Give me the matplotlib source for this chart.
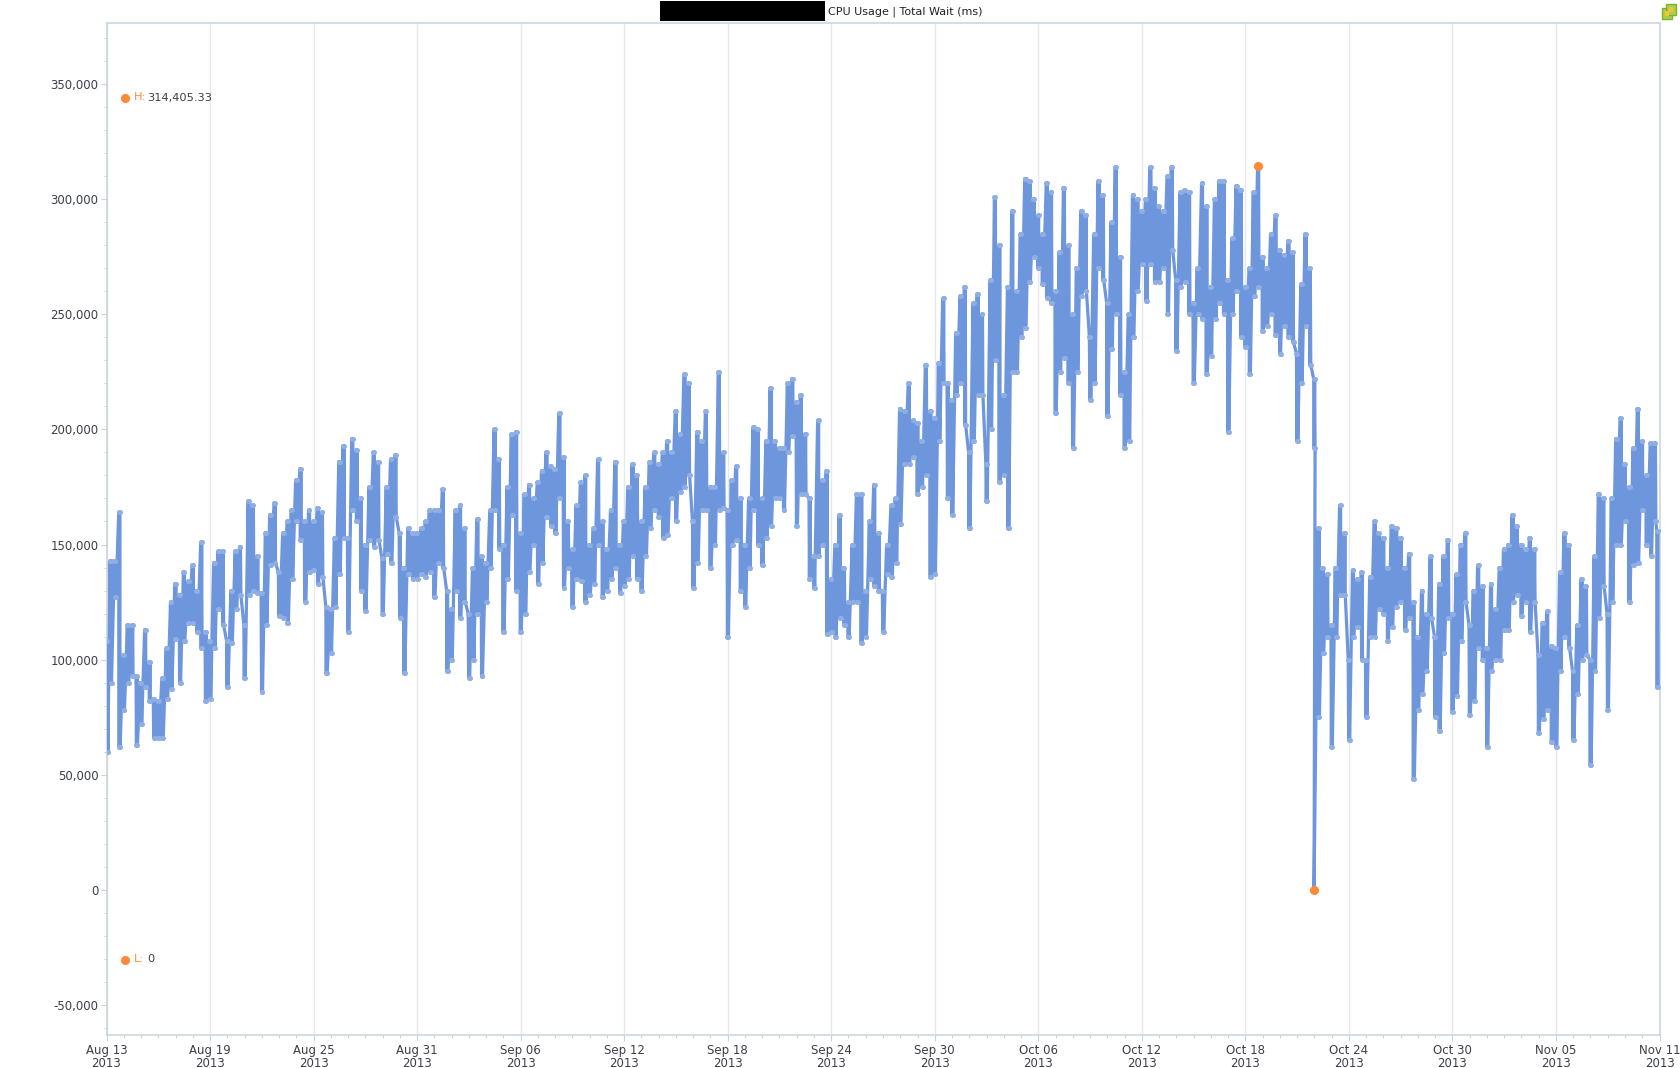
import numpy as np
import matplotlib
matplotlib.use("Agg")
import matplotlib.pyplot as plt
from matplotlib.lines import Line2D
from matplotlib.patches import Rectangle
from matplotlib.ticker import FuncFormatter, MultipleLocator

# Upper / lower swing of the wait time (thousand ms), quarter-day columns, six days per list
high_aug13 = [108,143,143,164,102,115,115,93,90,113,99,83,82,92,105,125,133,128,138,134,141,130,151,112]
low_aug13 = [60,90,127,62,78,90,93,63,72,88,82,66,66,66,83,87,109,90,108,116,116,112,105,82]
high_aug19 = [108,142,147,147,108,130,147,149,115,169,167,145,129,155,163,168,138,155,160,165,178,183,160,165]
low_aug19 = [83,105,122,115,88,107,122,128,92,128,130,129,86,115,141,142,119,118,116,135,160,152,125,138]
high_aug25 = [160,166,164,123,122,153,186,193,153,196,191,170,150,175,190,186,144,175,187,189,155,140,157,155]
low_aug25 = [139,133,136,94,103,123,137,153,112,165,160,130,121,152,149,152,120,146,142,162,118,94,137,135]
high_aug31 = [155,157,160,165,165,165,174,130,122,165,167,157,120,140,161,145,142,165,200,187,150,175,198,199]
low_aug31 = [135,137,136,138,127,142,140,95,100,130,118,125,92,100,120,93,125,140,165,148,112,135,163,130]
high_sep06 = [155,172,176,170,177,182,190,184,183,207,188,160,148,167,177,180,150,157,187,160,148,165,186,150]
low_sep06 = [112,120,138,150,133,142,162,158,155,170,131,140,123,135,134,125,128,133,150,127,130,135,140,129]
high_sep12 = [160,175,185,180,160,175,186,190,185,190,195,190,208,198,224,220,160,199,195,208,175,175,225,190]
low_sep12 = [132,135,145,135,130,145,157,165,162,153,154,170,160,173,175,180,131,142,165,165,140,150,165,166]
high_sep18 = [165,178,184,170,150,170,201,200,170,195,218,195,192,192,220,222,212,215,198,170,145,204,178,182]
low_sep18 = [110,150,152,130,123,140,165,150,141,153,158,170,170,165,190,197,158,172,172,135,131,145,150,111]
high_sep24 = [135,150,163,140,125,150,172,172,130,160,176,155,130,150,167,170,209,208,220,204,203,195,228,208]
low_sep24 = [112,110,118,115,110,125,125,107,110,135,132,130,112,137,136,142,159,185,185,188,172,175,180,136]
high_sep30 = [205,229,257,220,213,242,258,262,190,255,259,250,185,265,301,280,215,262,295,260,285,309,308,300]
low_sep30 = [137,195,220,170,163,215,220,202,157,195,215,215,169,200,230,177,180,157,225,225,240,244,264,275]
high_oct06 = [293,285,307,303,260,277,305,280,250,270,295,293,240,285,308,302,255,290,314,275,225,250,302,300]
low_oct06 = [270,263,257,255,207,225,231,220,192,225,258,260,213,220,270,265,206,235,250,215,192,195,240,260]
high_oct12 = [295,300,314,305,297,295,310,314,265,303,304,303,255,270,307,297,262,300,308,308,265,283,306,304]
low_oct12 = [272,256,272,264,264,270,250,278,234,262,264,250,220,250,248,224,232,248,255,250,199,250,260,240]
high_oct18 = [262,270,303,314.40533,275,270,285,293,278,276,282,277,233,263,285,270,222,157,140,137,115,140,167,155]
low_oct18 = [236,224,258,262,243,245,250,241,233,245,240,238,195,220,245,228,192,75,103,110,62,110,128,128]
high_oct24 = [100,139,135,138,100,136,160,155,153,140,158,157,153,140,146,125,110,130,120,145,110,133,145,152]
low_oct24 = [65,110,114,100,75,110,110,122,120,108,114,123,125,113,118,48,78,85,95,118,75,69,103,118]
high_oct30 = [120,137,150,155,115,130,141,132,105,133,122,140,148,150,163,158,150,148,153,148,102,116,121,106]
low_oct30 = [77,84,108,125,76,82,105,100,62,95,100,100,113,113,125,128,119,125,112,125,68,74,78,64]
high_nov05 = [105,138,155,150,95,115,135,132,100,145,172,170,120,170,196,205,185,175,192,209,195,180,194,194,156]
low_nov05 = [62,95,110,105,65,85,100,102,54,95,118,132,78,125,150,150,160,125,141,142,165,150,145,160,88]

# The single drop to zero on Oct 22
drop_day = 69.98
drop_value = 0.0
drop_column = 280

tick_dates = ["Aug 13", "Aug 19", "Aug 25", "Aug 31", "Sep 06", "Sep 12", "Sep 18", "Sep 24",
              "Sep 30", "Oct 06", "Oct 12", "Oct 18", "Oct 24", "Oct 30", "Nov 05", "Nov 11"]
tick_year = "2013"
title_text = "CPU Usage | Total Wait (ms)"
high_label = "314,405.33"
low_label = "0"

W, H = 1680, 1068
LINE = "#6E96DC"
ORANGE = "#FF8B3A"
AXIS = "#C8D2DC"
GRID = "#E6E8EA"
TEXT = "#3A3F4A"

highs = np.array(high_aug13 + high_aug19 + high_aug25 + high_aug31 + high_sep06 + high_sep12
                 + high_sep18 + high_sep24 + high_sep30 + high_oct06 + high_oct12 + high_oct18
                 + high_oct24 + high_oct30 + high_nov05, dtype=float)
lows = np.array(low_aug13 + low_aug19 + low_aug25 + low_aug31 + low_sep06 + low_sep12
                + low_sep18 + low_sep24 + low_sep30 + low_oct06 + low_oct12 + low_oct18
                + low_oct24 + low_oct30 + low_nov05, dtype=float)
col_days = np.arange(len(highs)) * 0.25
col_days[0] = 0.04
col_days[-1] = 89.88

# The line swings between each column's extremes twice, as the sampled series does
sweep = np.array([-0.04, -0.014, 0.014, 0.04])
days = (col_days[:, None] + sweep).ravel()
values = np.column_stack([highs, lows, highs, lows]).ravel() * 1000
at = (drop_column + 1) * len(sweep)
days = np.insert(days, at, drop_day)
values = np.insert(values, at, drop_value)


def fx(px):
    return px / W


def fy(px):
    return 1 - px / H


fig = plt.figure(figsize=(W / 100, H / 100), dpi=100, facecolor="white")
ax = fig.add_axes([fx(106.5), fy(1035), fx(1659.5 - 106.5), (1035 - 22.5) / H])

ax.plot(days, values, color=LINE, lw=2.3, solid_joinstyle="round", zorder=3,
        marker="o", ms=3.6, mfc="#8FAEE4", mec="none")
i_max, i_min = np.argmax(values), np.argmin(values)
ax.plot(days[[i_max, i_min]], values[[i_max, i_min]], ls="none", marker="o", ms=6.6,
        color=ORANGE, mec="none", zorder=5, clip_on=False)

ax.set_xlim(0, 90)
ax.set_ylim(-63170, 376860)
ax.xaxis.set_minor_locator(MultipleLocator(1))
ax.set_xticks(np.arange(len(tick_dates)) * 6)
ax.set_xticklabels([f"{d}\n{tick_year}" for d in tick_dates], linespacing=0.95)
ax.yaxis.set_major_locator(MultipleLocator(50000))
ax.yaxis.set_minor_locator(MultipleLocator(10000))
ax.yaxis.set_major_formatter(FuncFormatter(lambda v, _: f"{int(v):,}"))
ax.grid(True, axis="x", which="major", color=GRID, lw=1.0, zorder=0)
ax.set_axisbelow(True)
ax.tick_params(axis="both", which="major", color=AXIS, labelcolor=TEXT, labelsize=8.5, width=0.8)
ax.tick_params(axis="x", which="major", length=4, pad=2.6)
ax.tick_params(axis="y", which="major", length=4.3, pad=1.4)
ax.tick_params(axis="both", which="minor", color=AXIS, length=2.4, width=0.7)
for s in ax.spines.values():
    s.set_color(AXIS)
    s.set_linewidth(1.1)

# Header: redacted name, title, icon
fig.add_artist(Rectangle((fx(660), fy(20.5)), 165 / W, 19.5 / H, transform=fig.transFigure,
                         color="black", lw=0))
fig.text(fx(828), fy(12), title_text, ha="left", va="center", fontsize=8, color="#222222")
fig.add_artist(Rectangle((fx(1662), fy(19)), 10 / W, 11 / H, transform=fig.transFigure,
                         fc="#A9D04E", ec="#7DB030", lw=1))
fig.add_artist(Rectangle((fx(1666), fy(15)), 10 / W, 11 / H, transform=fig.transFigure,
                         fc="#A9D04E", ec="#7DB030", lw=1))
fig.add_artist(Rectangle((fx(1664.5), fy(15.5)), 4.5 / W, 4 / H, transform=fig.transFigure,
                         fc="#F9C22E", lw=0))
fig.add_artist(Rectangle((fx(1668.5), fy(11.5)), 4.5 / W, 4 / H, transform=fig.transFigure,
                         fc="#F9C22E", lw=0))

# High / low readout
for y_px, tag, label in ((97.5, "H:", high_label), (959.5, "L:", low_label)):
    fig.add_artist(Line2D([fx(125.3)], [fy(y_px)], marker="o", ms=6.6, color=ORANGE, mec="none",
                          transform=fig.transFigure, ls="none"))
    fig.text(fx(133.5), fy(y_px), tag, color=ORANGE, fontsize=8.2, ha="left", va="center")
    fig.text(fx(147.5), fy(y_px), label, color=TEXT, fontsize=8.2, ha="left", va="center")

fig.savefig("out.png", dpi=100, facecolor="white")
